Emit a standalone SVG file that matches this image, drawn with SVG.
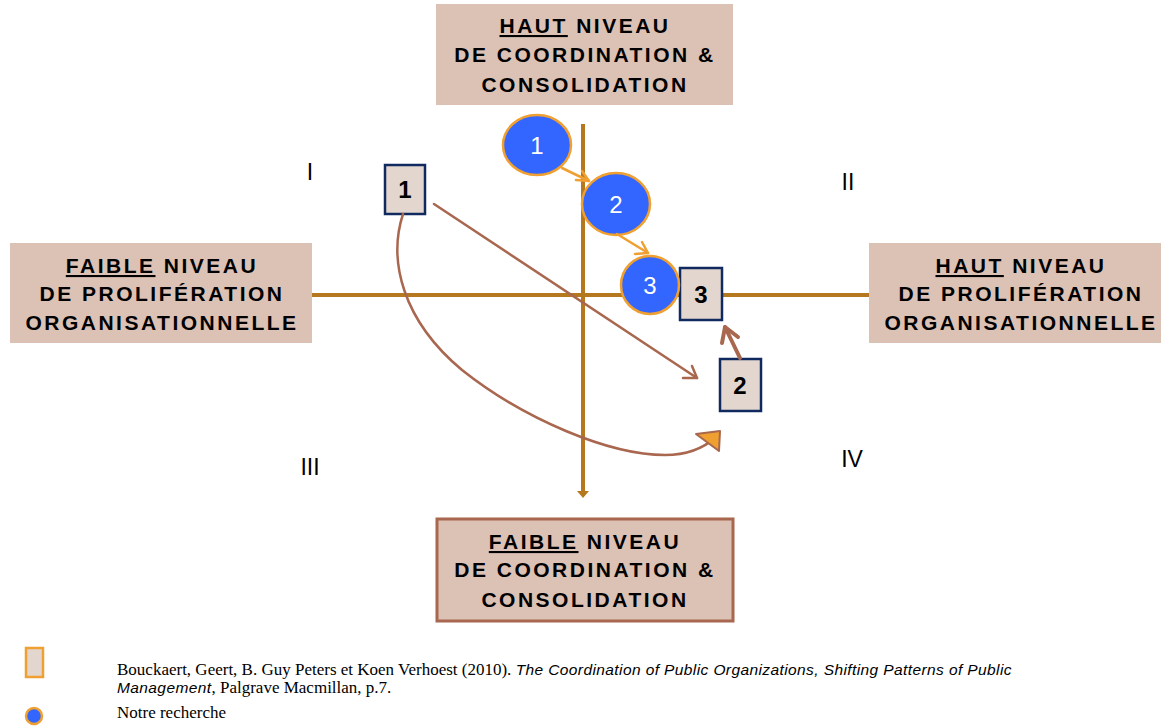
<svg xmlns="http://www.w3.org/2000/svg" width="1161" height="728" viewBox="0 0 1161 728">
  <style>
    .label { fill: #dcc1b5; }
    .label-text { font-family: "Liberation Sans", Arial, sans-serif; font-weight: bold; font-size: 21px; letter-spacing: 2.5px; fill: #000; text-anchor: middle; }
    .u { text-decoration: underline; }
    .roman { font-family: "Liberation Sans", Arial, sans-serif; font-size: 23px; fill: #000; text-anchor: middle; }
    .sq { fill: #e2d6cf; stroke: #10295e; stroke-width: 2.5; }
    .sq-text { font-family: "Liberation Sans", Arial, sans-serif; font-weight: bold; font-size: 24px; fill: #000; text-anchor: middle; }
    .dot { fill: #3366ff; stroke: #f0a030; stroke-width: 2.5; }
    .dot-text { font-family: "Liberation Sans", Arial, sans-serif; font-size: 24px; fill: #fff; text-anchor: middle; }
    .axis { stroke: #b5781f; stroke-width: 4; fill: none; }
    .brown { stroke: #a8674e; stroke-width: 2.5; fill: none; stroke-linecap: round; stroke-linejoin: round; }
    .brown-thick { stroke: #a8674e; stroke-width: 4; fill: none; stroke-linecap: round; stroke-linejoin: round; }
    .orange { stroke: #f0a030; stroke-width: 2.5; fill: none; stroke-linecap: round; stroke-linejoin: round; }
    .ref { font-family: "Liberation Serif", "Times New Roman", serif; font-size: 17px; fill: #000; }
    .ref-i { font-family: "Liberation Sans", Arial, sans-serif; font-style: italic; font-size: 15.5px; letter-spacing: 0.4px; }
  </style>

  <!-- axes -->
  <g id="axes">
    <line class="axis" x1="312" y1="295" x2="869" y2="295"/>
    <line class="axis" x1="583" y1="124" x2="583" y2="492"/>
    <path d="M577,491 L589,491 L583,498 Z" fill="#b5781f"/>
  </g>

  <!-- axis labels -->
  <g id="top-label">
    <rect class="label" x="436" y="4" width="297" height="101"/>
    <text class="label-text" x="585" y="33"><tspan class="u">HAUT</tspan> NIVEAU</text>
    <text class="label-text" x="585" y="62">DE COORDINATION &amp;</text>
    <text class="label-text" x="585" y="92">CONSOLIDATION</text>
  </g>
  <g id="left-label">
    <rect class="label" x="10" y="243" width="302" height="100"/>
    <text class="label-text" x="162" y="273"><tspan class="u">FAIBLE</tspan> NIVEAU</text>
    <text class="label-text" x="162" y="301">DE PROLIFÉRATION</text>
    <text class="label-text" x="162" y="330">ORGANISATIONNELLE</text>
  </g>
  <g id="right-label">
    <rect class="label" x="869" y="243" width="292" height="100"/>
    <text class="label-text" x="1021" y="273"><tspan class="u">HAUT</tspan> NIVEAU</text>
    <text class="label-text" x="1021" y="301">DE PROLIFÉRATION</text>
    <text class="label-text" x="1021" y="330">ORGANISATIONNELLE</text>
  </g>
  <g id="bottom-label">
    <rect class="label" x="437" y="519" width="296" height="102" stroke="#a8674e" stroke-width="3"/>
    <text class="label-text" x="585" y="549"><tspan class="u">FAIBLE</tspan> NIVEAU</text>
    <text class="label-text" x="585" y="577">DE COORDINATION &amp;</text>
    <text class="label-text" x="585" y="607">CONSOLIDATION</text>
  </g>

  <!-- quadrant numbers -->
  <g id="quadrants">
    <text class="roman" x="310" y="180">I</text>
    <text class="roman" x="848" y="190">II</text>
    <text class="roman" x="310" y="475">III</text>
    <text class="roman" x="852" y="467">IV</text>
  </g>

  <!-- reference squares -->
  <g id="sq1"><rect class="sq" x="385" y="165" width="40" height="49"/><text class="sq-text" x="405" y="198">1</text></g>
  <g id="sq3"><rect class="sq" x="680" y="268" width="42" height="52"/><text class="sq-text" x="701" y="303">3</text></g>
  <g id="sq2"><rect class="sq" x="720" y="359" width="41" height="52"/><text class="sq-text" x="740" y="394">2</text></g>

  <!-- research circles -->
  <g id="dot1"><ellipse class="dot" cx="537" cy="145" rx="34" ry="30"/><text class="dot-text" x="537" y="154">1</text></g>
  <g id="dot2"><ellipse class="dot" cx="616" cy="204" rx="34" ry="31"/><text class="dot-text" x="616" y="213">2</text></g>
  <g id="dot3"><ellipse class="dot" cx="650" cy="285" rx="29" ry="29"/><text class="dot-text" x="650" y="294">3</text></g>

  <!-- connectors -->
  <g id="connectors">
    <!-- square 1 to square 2 -->
    <line class="brown" x1="434" y1="204" x2="697" y2="378"/>
    <path class="brown" d="M683,378 L697,378 L692,366"/>
    <!-- square 1 looping round to quadrant IV -->
    <path class="brown" d="M403,214 C388,260 402,320 462,370 C525,420 610,455 665,455 C690,455 705,447 716,437"/>
    <path d="M696,434 L720,431 L719,451 Z" fill="#f0a030" stroke="#a8674e" stroke-width="2" stroke-linejoin="round"/>
    <!-- square 2 to square 3 -->
    <line class="brown-thick" x1="740" y1="358" x2="725" y2="327"/>
    <path class="brown-thick" d="M722,343 L725,327 L738,337"/>
    <!-- circle 1 to circle 2 -->
    <line class="orange" x1="562" y1="168" x2="589" y2="181"/>
    <path class="orange" d="M576,180 L589,181 L582,171"/>
    <!-- circle 2 to circle 3 -->
    <line class="orange" x1="617" y1="234" x2="648" y2="253"/>
    <path class="orange" d="M635,254 L648,253 L642,242"/>
  </g>

  <!-- legend -->
  <g id="legend">
    <rect x="26" y="648" width="17" height="29" fill="#e2d6cf" stroke="#f0a030" stroke-width="2.5"/>
    <circle cx="34" cy="716" r="8" fill="#3366ff" stroke="#f0a030" stroke-width="2.5"/>
    <text class="ref" x="117" y="675">Bouckaert, Geert, B. Guy Peters et Koen Verhoest (2010). <tspan class="ref-i">The Coordination of Public Organizations, Shifting Patterns of Public</tspan></text>
    <text class="ref" x="117" y="693"><tspan class="ref-i">Management</tspan>, Palgrave Macmillan, p.7.</text>
    <text class="ref" x="117" y="718">Notre recherche</text>
  </g>
</svg>
